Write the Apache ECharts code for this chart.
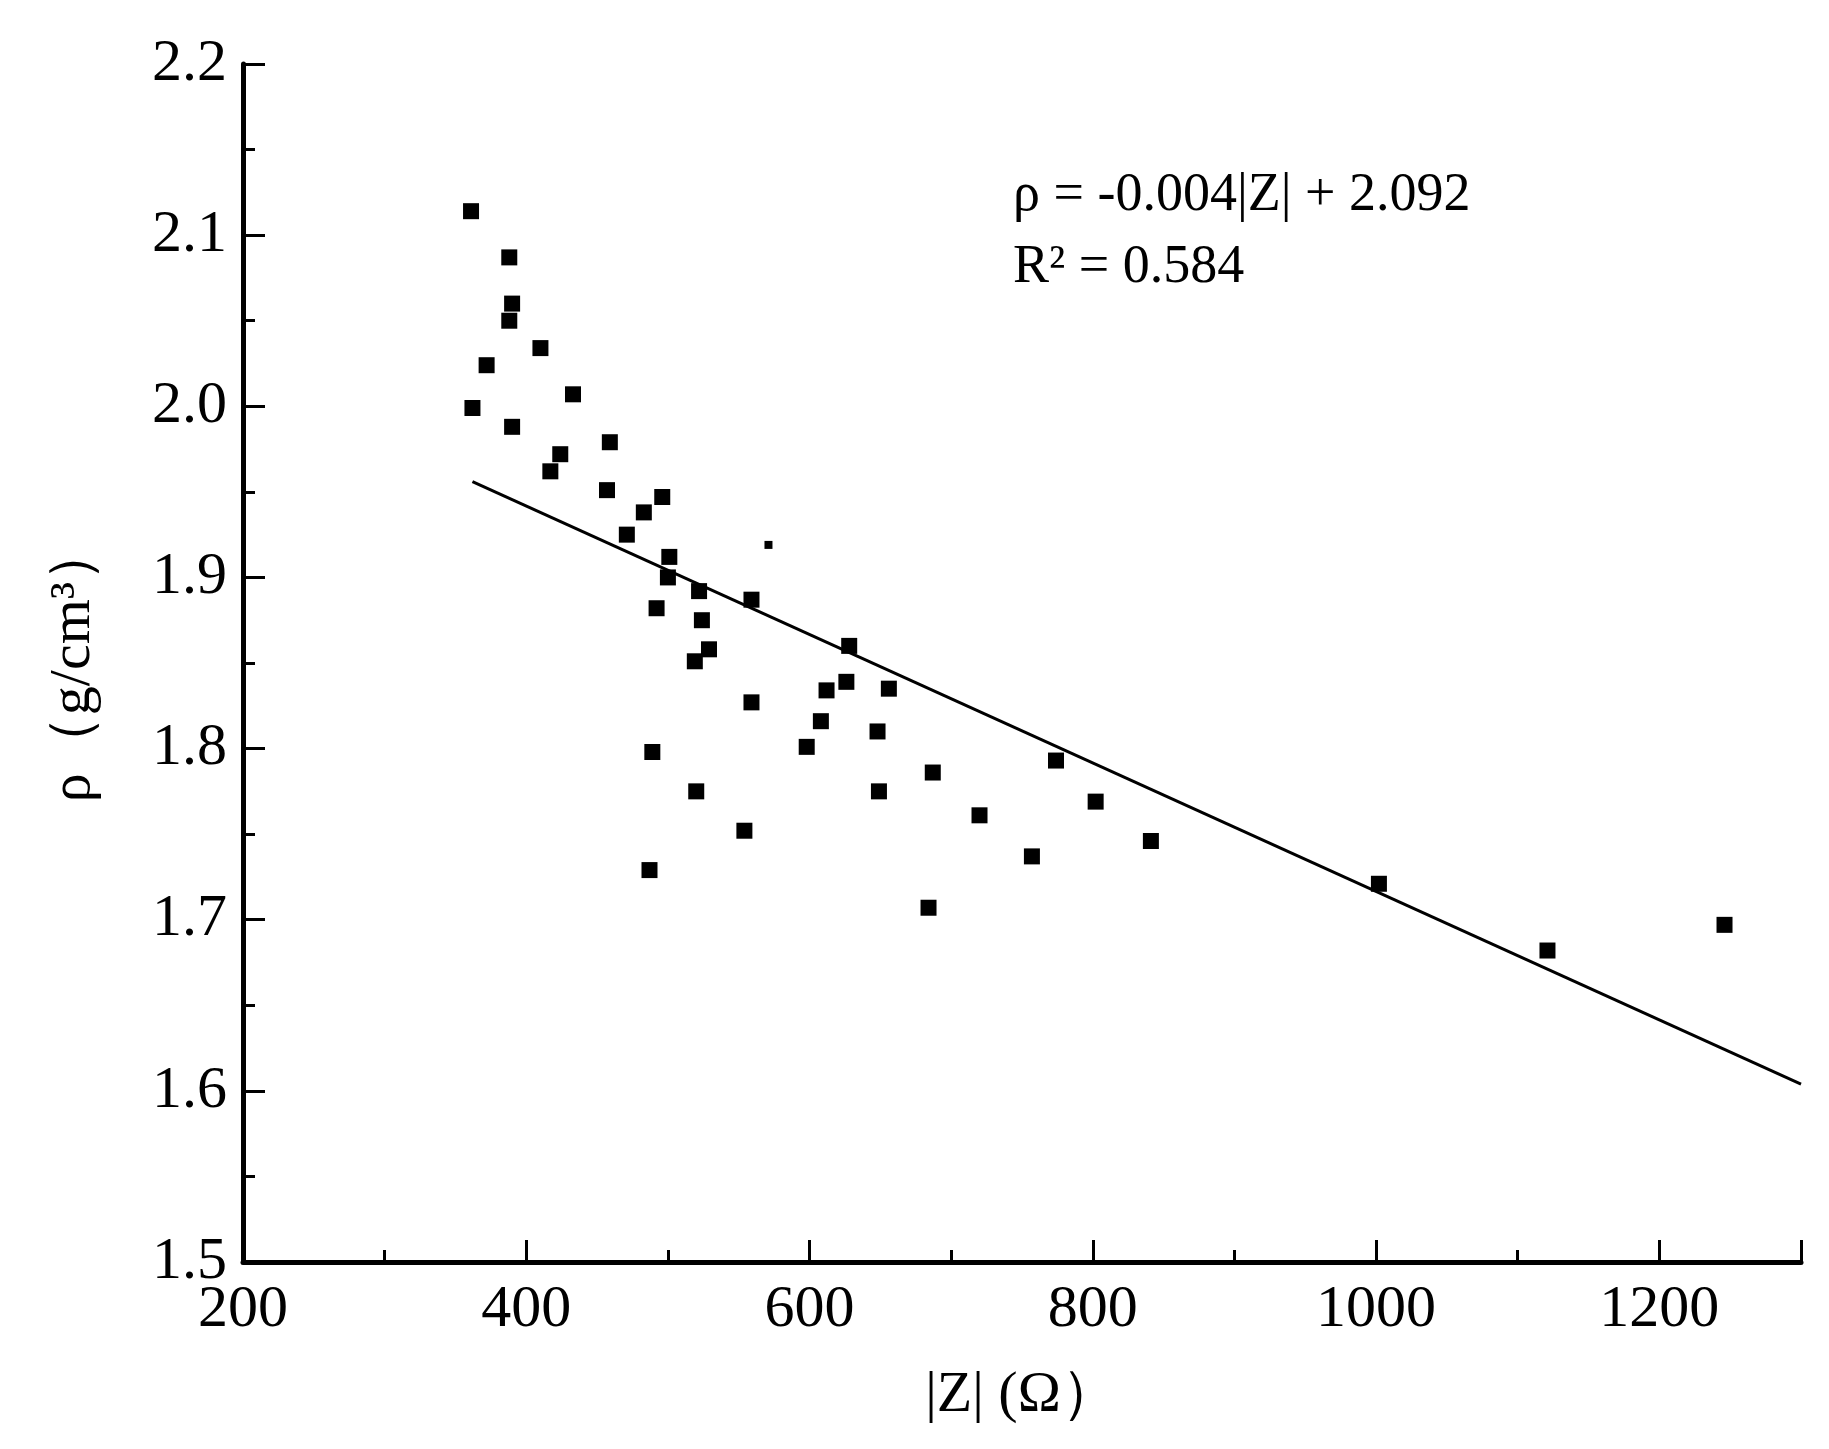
<!DOCTYPE html>
<html>
<head>
<meta charset="utf-8">
<script src="https://cdn.jsdelivr.net/npm/echarts@6/dist/echarts.min.js"></script>
<style>html,body{margin:0;background:#fff}#main{width:1829px;height:1449px}</style>
</head>
<body>
<div id="main"></div>
<script>
var zVals = [361, 388, 390, 388, 410, 372, 433, 362, 390, 459, 424, 417, 457, 496, 483, 471, 501, 500, 522, 559, 492, 524, 529, 628, 519, 626, 612, 656, 559, 608, 648, 598, 489, 774, 687, 802, 520, 649, 720, 554, 841, 757, 487, 684, 1002, 1121, 1246];
var rhoVals = [2.114, 2.087, 2.060, 2.050, 2.034, 2.024, 2.007, 1.999, 1.988, 1.979, 1.972, 1.962, 1.951, 1.947, 1.938, 1.925, 1.912, 1.900, 1.892, 1.887, 1.882, 1.875, 1.858, 1.860, 1.851, 1.839, 1.834, 1.835, 1.827, 1.816, 1.810, 1.801, 1.798, 1.793, 1.786, 1.769, 1.775, 1.775, 1.761, 1.752, 1.746, 1.737, 1.729, 1.707, 1.721, 1.682, 1.697];
var smallPoint = [571, 1.919];
var fitX = [362, 1300];
var fitY = [1.956, 1.604];

var serif = 'Liberation Serif';
var myChart = echarts.init(document.getElementById('main'));

var points = zVals.map(function (z, i) { return [z, rhoVals[i]]; });
var fitLine = fitX.map(function (x, i) { return [x, fitY[i]]; });

myChart.setOption({
    backgroundColor: '#fff',
    animation: false,
    grid: {left: 243, right: 28, top: 64, bottom: 187},
    xAxis: {
        type: 'value', min: 200, max: 1300, interval: 200,
        name: '|Z| (Ω）', nameLocation: 'middle', nameGap: 105,
        nameTextStyle: {fontFamily: serif, fontSize: 58, color: '#000'},
        axisLine: {lineStyle: {color: '#000', width: 5}},
        axisTick: {inside: true, length: 22, lineStyle: {color: '#000', width: 3}},
        minorTick: {show: true, splitNumber: 2, length: 12, lineStyle: {color: '#000', width: 3}},
        axisLabel: {fontFamily: serif, fontSize: 60, color: '#000', margin: 18, showMaxLabel: false,
            formatter: function (v) { return String(v); }},
        splitLine: {show: false}
    },
    yAxis: {
        type: 'value', min: 1.5, max: 2.2, interval: 0.1,
        name: 'ρ（g/cm³）', nameLocation: 'middle', nameGap: 140,
        nameTextStyle: {fontFamily: serif, fontSize: 58, color: '#000'},
        axisLine: {lineStyle: {color: '#000', width: 5}},
        axisTick: {inside: true, length: 22, lineStyle: {color: '#000', width: 3}},
        minorTick: {show: true, splitNumber: 2, length: 12, lineStyle: {color: '#000', width: 3}},
        axisLabel: {fontFamily: serif, fontSize: 60, color: '#000', margin: 16,
            formatter: function (v) { return v.toFixed(1); }},
        splitLine: {show: false}
    },
    series: [
        {
            type: 'scatter', data: points, symbol: 'rect', symbolSize: 16,
            itemStyle: {color: '#000', opacity: 1}
        },
        {
            type: 'scatter', data: [smallPoint], symbol: 'rect', symbolSize: 8,
            itemStyle: {color: '#000', opacity: 1}
        },
        {
            type: 'line', data: fitLine, symbol: 'none',
            lineStyle: {color: '#000', width: 3}
        }
    ],
    graphic: [{
        type: 'text', left: 1013, top: 160,
        style: {
            text: 'ρ = -0.004|Z| + 2.092\nR² = 0.584',
            font: '54px "Liberation Serif"', fill: '#000', lineHeight: 72
        }
    }]
});
</script>
</body>
</html>
